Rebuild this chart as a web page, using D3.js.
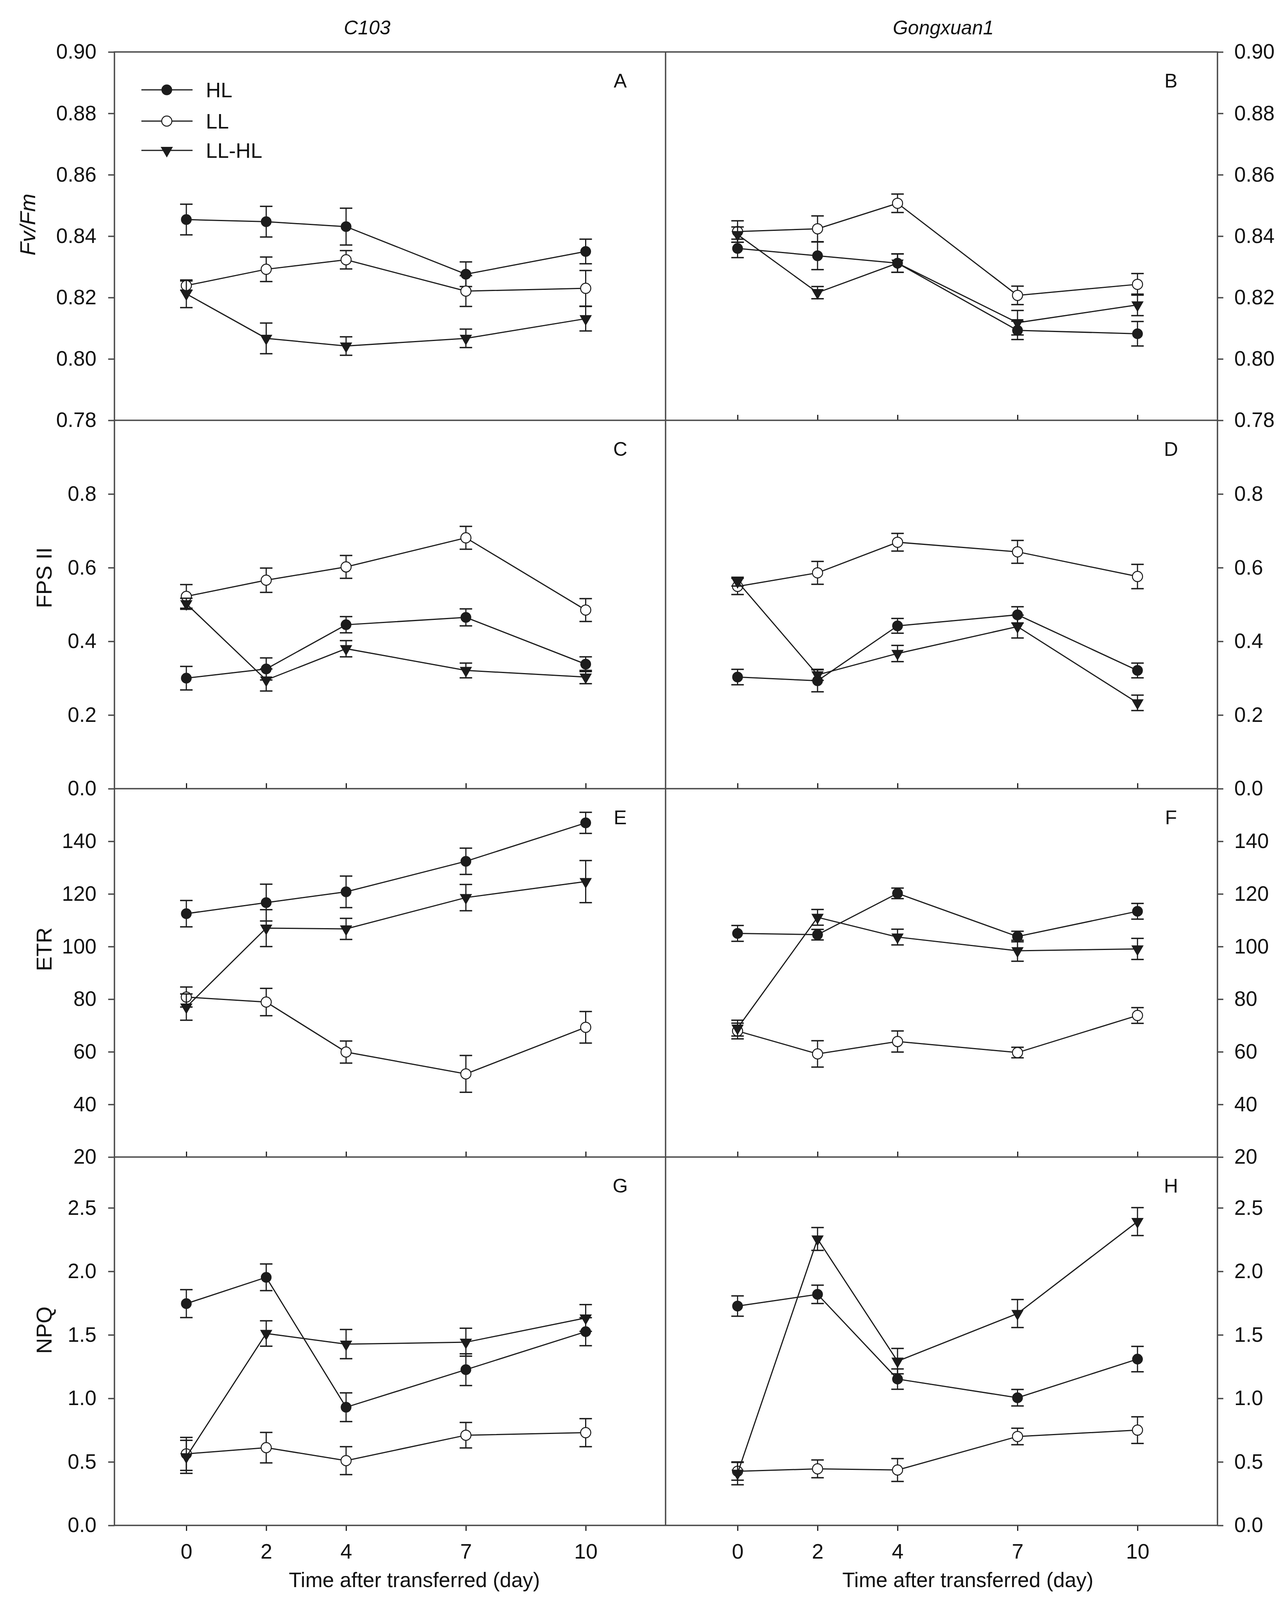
<!DOCTYPE html>
<html>
<head>
<meta charset="utf-8">
<script src="https://cdn.jsdelivr.net/npm/d3@7"></script>
<style>
  body { margin: 0; background: #fff; }
  text { font-family: "Liberation Sans", Arial, sans-serif; fill: #111; }
</style>
</head>
<body>
<svg id="chart" width="3295" height="4097"></svg>
<script>
// sampling days and labels
const days = [0, 2, 4, 7, 10];
const seriesNames = ["HL", "LL", "LL-HL"];
const cultivars = ["C103", "Gongxuan1"];
const panelLetters = [["A", "B"], ["C", "D"], ["E", "F"], ["G", "H"]];
const rowTitles = ["Fv/Fm", "FPS II", "ETR", "NPQ"];

// axis ranges and tick values per row
const fvfmRange = [0.78, 0.90];
const fpsRange = [0, 1.0];
const etrRange = [20, 160];
const npqRange = [0, 2.9];
const fvfmTicks = [0.78, 0.80, 0.82, 0.84, 0.86, 0.88, 0.90];
const fpsTicks = [0.0, 0.2, 0.4, 0.6, 0.8];
const etrTicks = [20, 40, 60, 80, 100, 120, 140];
const npqTicks = [0.0, 0.5, 1.0, 1.5, 2.0, 2.5];

// A: Fv/Fm, C103
const aHL = [0.8454, 0.8447, 0.8431, 0.8276, 0.8350];
const aHLse = [0.005, 0.005, 0.006, 0.004, 0.004];
const aLL = [0.8239, 0.8292, 0.8323, 0.8221, 0.8230];
const aLLse = [0.0015, 0.004, 0.003, 0.005, 0.0058];
const aLLHL = [0.8212, 0.8067, 0.8042, 0.8067, 0.8131];
const aLLHLse = [0.0045, 0.005, 0.003, 0.003, 0.004];
// B: Fv/Fm, Gongxuan1
const bHL = [0.8360, 0.8336, 0.8312, 0.8093, 0.8082];
const bHLse = [0.003, 0.0045, 0.003, 0.003, 0.004];
const bLL = [0.8415, 0.8424, 0.8507, 0.8207, 0.8243];
const bLLse = [0.0035, 0.0042, 0.003, 0.003, 0.0035];
const bLLHL = [0.8405, 0.8216, 0.8312, 0.8118, 0.8176];
const bLLHLse = [0.0025, 0.002, 0.003, 0.004, 0.0035];
// C: FPS II, C103
const cHL = [0.300, 0.325, 0.445, 0.465, 0.338];
const cHLse = [0.032, 0.030, 0.022, 0.023, 0.020];
const cLL = [0.522, 0.566, 0.602, 0.681, 0.485];
const cLLse = [0.032, 0.033, 0.031, 0.031, 0.031];
const cLLHL = [0.502, 0.295, 0.380, 0.321, 0.303];
const cLLHLse = [0.015, 0.030, 0.022, 0.020, 0.018];
// D: FPS II, Gongxuan1
const dHL = [0.303, 0.293, 0.442, 0.472, 0.321];
const dHLse = [0.021, 0.030, 0.020, 0.022, 0.020];
const dLL = [0.549, 0.586, 0.669, 0.643, 0.576];
const dLLse = [0.022, 0.031, 0.024, 0.031, 0.033];
const dLLHL = [0.562, 0.309, 0.367, 0.440, 0.233];
const dLLHLse = [0.012, 0.015, 0.022, 0.031, 0.021];
// E: ETR, C103
const eHL = [112.5, 116.7, 120.8, 132.4, 147.0];
const eHLse = [5, 7, 6, 5, 4];
const eLL = [80.8, 78.9, 59.9, 51.6, 69.3];
const eLLse = [3.8, 5.2, 4.2, 7, 6];
const eLLHL = [77.0, 107.0, 106.7, 118.6, 124.7];
const eLLHLse = [5, 7, 4, 5, 8];
// F: ETR, Gongxuan1
const fHL = [105.0, 104.5, 120.2, 103.8, 113.4];
const fHLse = [3, 2, 2, 2, 3];
const fLL = [67.9, 59.2, 63.9, 59.7, 73.8];
const fLLse = [3, 5, 4, 2, 3];
const fLLHL = [69.0, 111.1, 103.6, 98.4, 99.1];
const fLLHLse = [3, 3, 3, 4, 4];
// G: NPQ, C103
const gHL = [1.746, 1.953, 0.930, 1.226, 1.525];
const gHLse = [0.11, 0.105, 0.113, 0.125, 0.11];
const gLL = [0.563, 0.612, 0.510, 0.710, 0.730];
const gLLse = [0.13, 0.12, 0.11, 0.10, 0.11];
const gLLHL = [0.540, 1.511, 1.427, 1.442, 1.633];
const gLLHLse = [0.13, 0.10, 0.115, 0.11, 0.105];
// H: NPQ, Gongxuan1
const hHL = [1.727, 1.819, 1.152, 1.005, 1.309];
const hHLse = [0.08, 0.072, 0.08, 0.065, 0.10];
const hLL = [0.426, 0.445, 0.436, 0.700, 0.750];
const hLLse = [0.07, 0.07, 0.09, 0.065, 0.105];
const hLLHL = [0.410, 2.255, 1.293, 1.668, 2.392];
const hLLHLse = [0.09, 0.09, 0.10, 0.11, 0.11];

const rows = [
  { range: fvfmRange, ticks: fvfmTicks, fmt: ".2f",
    panels: [[aHL, aHLse, aLL, aLLse, aLLHL, aLLHLse], [bHL, bHLse, bLL, bLLse, bLLHL, bLLHLse]] },
  { range: fpsRange, ticks: fpsTicks, fmt: ".1f",
    panels: [[cHL, cHLse, cLL, cLLse, cLLHL, cLLHLse], [dHL, dHLse, dLL, dLLse, dLLHL, dLLHLse]] },
  { range: etrRange, ticks: etrTicks, fmt: "d",
    panels: [[eHL, eHLse, eLL, eLLse, eLLHL, eLLHLse], [fHL, fHLse, fLL, fLLse, fLLHL, fLLHLse]] },
  { range: npqRange, ticks: npqTicks, fmt: ".1f",
    panels: [[gHL, gHLse, gLL, gLLse, gLLHL, gLLHLse], [hHL, hHLse, hLL, hLLse, hLLHL, hLLHLse]] }
];

// layout
const plotLeft = 293, plotMid = 1704, plotRight = 3117;
const plotTop = 133, rowH = 943;
const frameColor = "#4a4a4a";
const ink = "#1c1c1c";
const fontFamily = "Liberation Sans, Arial, sans-serif";

const svg = d3.select("#chart");
svg.append("rect").attr("width", 3295).attr("height", 4097).attr("fill", "#fff");

const xLeft = d3.scaleLinear().domain([-1.8, 12]).range([plotLeft, plotMid]);
const xRight = d3.scaleLinear().domain([-1.8, 12]).range([plotMid, plotRight]);
const xScales = [xLeft, xRight];

const tri = d3.symbol().type(d3.symbolTriangle).size(360);
const dot = d3.symbol().type(d3.symbolCircle).size(Math.PI * 13 * 13);

function drawMarker(g, kind, x, y) {
  if (kind === 0) {
    g.append("path").attr("d", dot()).attr("transform", `translate(${x},${y})`)
      .attr("fill", ink).attr("stroke", ink).attr("stroke-width", 1.5);
  } else if (kind === 1) {
    g.append("path").attr("d", dot()).attr("transform", `translate(${x},${y})`)
      .attr("fill", "#fff").attr("stroke", ink).attr("stroke-width", 2.5);
  } else {
    g.append("path").attr("d", tri()).attr("transform", `translate(${x},${y}) rotate(180)`)
      .attr("fill", ink).attr("stroke", ink).attr("stroke-width", 1.5);
  }
}

rows.forEach((row, r) => {
  const y0 = plotTop + r * rowH, y1 = y0 + rowH;
  const y = d3.scaleLinear().domain(row.range).range([y1, y0]);
  const fmt = d3.format(row.fmt);
  const isLast = r === rows.length - 1;

  // left and right y axes
  svg.append("g").attr("transform", `translate(${plotLeft},0)`)
    .call(d3.axisLeft(y).tickValues(row.ticks).tickFormat(fmt).tickSize(16).tickPadding(30))
    .call(g => g.select(".domain").remove())
    .call(g => g.selectAll("line").attr("stroke", frameColor).attr("stroke-width", 3.5))
    .call(g => g.selectAll("text").attr("font-size", 53).attr("fill", "#111")
      .attr("font-family", fontFamily));
  svg.append("g").attr("transform", `translate(${plotRight},0)`)
    .call(d3.axisRight(y).tickValues(row.ticks).tickFormat(fmt).tickSize(15).tickPadding(28))
    .call(g => g.select(".domain").remove())
    .call(g => g.selectAll("line").attr("stroke", frameColor).attr("stroke-width", 3.5))
    .call(g => g.selectAll("text").attr("font-size", 53).attr("fill", "#111")
      .attr("font-family", fontFamily));

  // y title
  const titleX = r === 0 ? 90 : 132;
  const titleY = [575, 1479, 2430, 3405][r];
  svg.append("text")
    .attr("transform", `translate(${titleX},${titleY}) rotate(-90)`)
    .attr("text-anchor", "middle")
    .attr("font-size", 56)
    .attr("font-style", r === 0 ? "italic" : "normal")
    .text(rowTitles[r]);

  row.panels.forEach((series, c) => {
    const x = xScales[c];
    const g = svg.append("g");

    // x ticks: inward except the bottom row, none under panel A
    if (isLast) {
      svg.append("g").attr("transform", `translate(0,${y1})`)
        .call(d3.axisBottom(x).tickValues(days).tickFormat(d3.format("d")).tickSize(14).tickPadding(33))
        .call(a => a.select(".domain").remove())
        .call(a => a.selectAll("line").attr("stroke", ink).attr("stroke-width", 3))
        .call(a => a.selectAll("text").attr("font-size", 54).attr("fill", "#111")
          .attr("font-family", fontFamily));
    } else if (!(r === 0 && c === 0)) {
      svg.append("g").attr("transform", `translate(0,${y1})`)
        .call(d3.axisBottom(x).tickValues(days).tickFormat("").tickSize(-14))
        .call(a => a.select(".domain").remove())
        .call(a => a.selectAll("line").attr("stroke", ink).attr("stroke-width", 3));
    }

    // series: line, error bars, markers
    for (let s = 0; s < 3; s++) {
      const vals = series[s * 2], errs = series[s * 2 + 1];
      const pts = days.map((d, i) => ({ d, v: vals[i], e: errs[i] }));
      g.append("path")
        .datum(pts)
        .attr("d", d3.line().x(p => x(p.d)).y(p => y(p.v)))
        .attr("fill", "none").attr("stroke", ink).attr("stroke-width", 3);
      pts.forEach(p => {
        const cx = x(p.d), yt = y(p.v + p.e), yb = y(p.v - p.e);
        g.append("line").attr("x1", cx).attr("x2", cx).attr("y1", yt).attr("y2", yb)
          .attr("stroke", ink).attr("stroke-width", 3);
        [yt, yb].forEach(yy => g.append("line")
          .attr("x1", cx - 16).attr("x2", cx + 16).attr("y1", yy).attr("y2", yy)
          .attr("stroke", ink).attr("stroke-width", 3.5));
      });
      pts.forEach(p => drawMarker(g, s, x(p.d), y(p.v)));
    }

    // panel letter
    svg.append("text")
      .attr("x", c === 0 ? 1588 : 2998)
      .attr("y", y0 + 91)
      .attr("text-anchor", "middle")
      .attr("font-size", 50)
      .text(panelLetters[r][c]);
  });
});

// frame lines
const frame = svg.append("g").attr("stroke", frameColor).attr("stroke-width", 3.5).attr("fill", "none");
frame.append("rect").attr("x", plotLeft).attr("y", plotTop)
  .attr("width", plotRight - plotLeft).attr("height", rowH * 4);
for (let r = 1; r < 4; r++) {
  frame.append("line").attr("x1", plotLeft).attr("x2", plotRight)
    .attr("y1", plotTop + r * rowH).attr("y2", plotTop + r * rowH);
}
frame.append("line").attr("x1", plotMid).attr("x2", plotMid)
  .attr("y1", plotTop).attr("y2", plotTop + rowH * 4);

// column titles
svg.append("text").attr("x", 940).attr("y", 88).attr("text-anchor", "middle")
  .attr("font-size", 50).attr("font-style", "italic").text(cultivars[0]);
svg.append("text").attr("x", 2415).attr("y", 88).attr("text-anchor", "middle")
  .attr("font-size", 50).attr("font-style", "italic").text(cultivars[1]);

// x axis titles
[1061, 2478].forEach(cx => svg.append("text")
  .attr("x", cx).attr("y", 4063).attr("text-anchor", "middle")
  .attr("font-size", 53).text("Time after transferred (day)"));

// legend in panel A
const legend = svg.append("g");
[230, 310, 385].forEach((ly, i) => {
  legend.append("line").attr("x1", 362).attr("x2", 493).attr("y1", ly).attr("y2", ly)
    .attr("stroke", ink).attr("stroke-width", 3);
  drawMarker(legend, i, 427, ly);
  legend.append("text").attr("x", 527).attr("y", ly).attr("dy", "0.35em")
    .attr("font-size", 53).text(seriesNames[i]);
});
</script>
</body>
</html>
